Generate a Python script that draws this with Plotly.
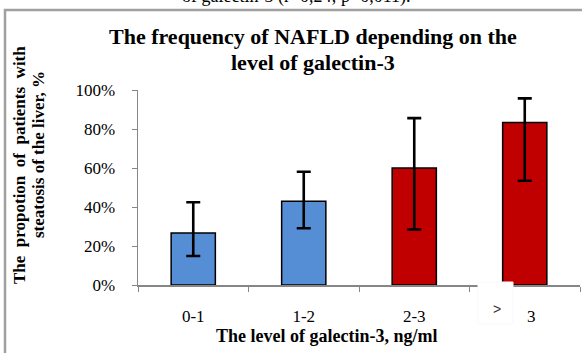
import plotly.graph_objects as go

# ---- data ----
categories = ["0-1", "1-2", "2-3", "> 3"]
proportion = [0.267, 0.429, 0.600, 0.833]
err_plus = [0.157, 0.152, 0.256, 0.124]
err_minus = [0.118, 0.138, 0.315, 0.298]
bar_colors = ["#558ED5", "#558ED5", "#C00000", "#C00000"]
y_ticks = [0, 0.2, 0.4, 0.6, 0.8, 1.0]
y_ticklabels = ["0%", "20%", "40%", "60%", "80%", "100%"]

title_lines = ["The frequency of NAFLD depending on the", "level of galectin-3"]
ytitle_lines = ["The propotion of patients with", "steatosis of the liver, %"]
xtitle = "The level of galectin-3, ng/ml"
caption_tail = "of galectin-3 (r=0,24; p=0,011)."

W, H = 582, 353
L, R, T, B = 138, 2, 90, 68
PW, PH = W - L - R, H - T - B
FONT = "Liberation Serif, Times New Roman, serif"

def px(x):
    return (x - L) / PW

def py(y):
    return (H - B - y) / PH

# last label: symbol shown separately in a pasted box, number kept on the axis
sym, num = categories[-1].split(" ")
ticktext = categories[:-1] + ["\u00a0\u00a0\u00a0" + num]

fig = go.Figure()
fig.add_trace(go.Bar(
    x=categories, y=proportion,
    marker=dict(color=bar_colors, line=dict(color="black", width=1.5)),
    width=0.4,
    error_y=dict(type="data", symmetric=False, array=err_plus, arrayminus=err_minus,
                 color="black", thickness=2.6, width=7),
    hoverinfo="skip",
))

fig.update_layout(
    width=W, height=H,
    margin=dict(l=L, r=R, t=T, b=B),
    paper_bgcolor="white", plot_bgcolor="white",
    showlegend=False,
    font=dict(family=FONT, color="black"),
    xaxis=dict(
        type="category", tickmode="array", tickvals=categories, ticktext=ticktext,
        tickson="boundaries", ticks="outside", ticklen=5, tickcolor="#868686",
        showline=True, linecolor="#868686", linewidth=1.5,
        showgrid=False, tickfont=dict(size=17, family=FONT),
        range=[-0.5, 3.5], ticklabelstandoff=15,
    ),
    yaxis=dict(
        range=[0, 1], tickvals=y_ticks, ticktext=y_ticklabels,
        ticks="outside", ticklen=5, tickcolor="#868686",
        showline=True, linecolor="#868686", linewidth=1.5,
        showgrid=False, zeroline=False, tickfont=dict(size=17, family=FONT),
        ticklabelstandoff=13,
    ),
)

shapes = [
    # outer frame
    dict(type="rect", xref="paper", yref="paper", x0=px(5), x1=px(600), y0=py(400), y1=py(10),
         line=dict(color="#a0a0a0", width=2.5), fillcolor="rgba(0,0,0,0)", layer="above"),
    # pasted white box over the axis
    dict(type="rect", xref="paper", yref="paper", x0=px(478), x1=px(513), y0=py(324), y1=py(282),
         line=dict(color="#f9f9f9", width=1), fillcolor="white", layer="above"),
]
fig.update_layout(shapes=shapes)

def ann(text, x, y, size, bold=False, angle=0, family=FONT, color="black"):
    return dict(text=f"<b>{text}</b>" if bold else text, xref="paper", yref="paper",
                x=px(x), y=py(y), xanchor="center", yanchor="middle", showarrow=False,
                textangle=angle, font=dict(size=size, family=family, color=color))

spread = ytitle_lines[0].replace(" ", "\u00a0\u00a0")
annotations = [
    dict(text=caption_tail, xref="paper", yref="paper", x=px(296), y=py(9),
         xanchor="center", yanchor="bottom", showarrow=False, font=dict(size=18, family=FONT)),
    ann(title_lines[0], 313, 36, 22, bold=True),
    ann(title_lines[1], 313, 62, 22, bold=True),
    ann(spread, 19, 165, 17, bold=True, angle=-90),
    ann(ytitle_lines[1], 38, 155, 17, bold=True, angle=-90),
    ann(xtitle, 326, 336, 18, bold=True),
    ann(sym, 497, 309, 14, family="Liberation Sans", color="#333333"),
]
fig.update_layout(annotations=annotations)

fig.write_html("out.html", post_script="document.body.style.margin='0';",
               config={"displayModeBar": False, "staticPlot": True})
